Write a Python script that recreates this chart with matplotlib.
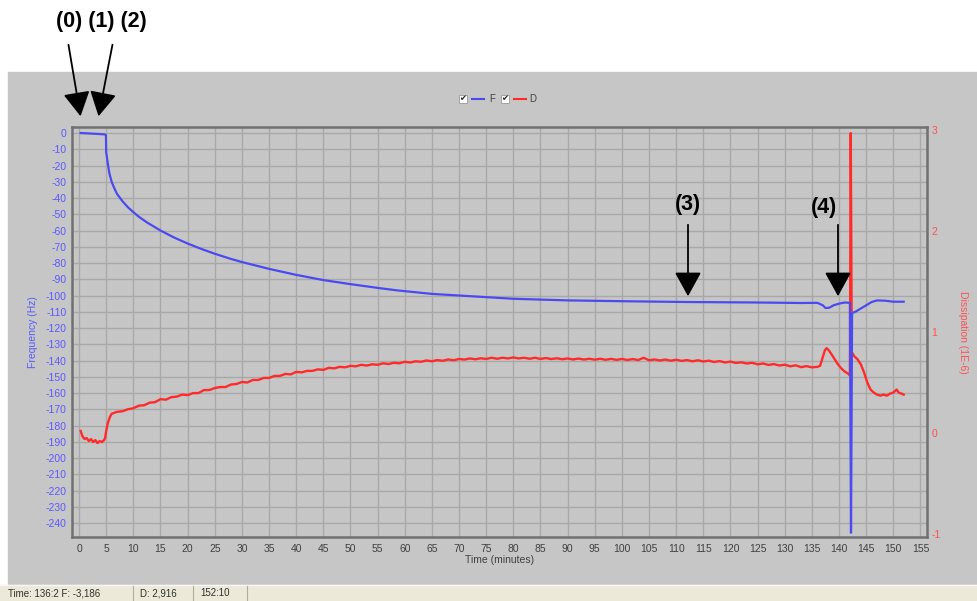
import numpy as np
import matplotlib
matplotlib.use('Agg')
import matplotlib.pyplot as plt
from matplotlib.lines import Line2D
from matplotlib.patches import Rectangle, FancyArrowPatch

plt.rcParams['font.family'] = ['Liberation Sans', 'DejaVu Sans']
plt.rcParams['axes.unicode_minus'] = False

# frequency F (Hz), left axis
t_f = [0.3, 2, 4.6, 4.95, 5.0, 5.1, 5.3, 5.6, 6.0, 6.5, 7.0, 8.0, 9.0, 10, 11, 12.5, 15, 17.5, 20,
       22.5, 25, 27.8, 30, 35, 40, 45, 50, 55, 58.5, 65, 70, 75, 80, 90, 100, 112,
       125, 133, 136, 137, 137.5, 138.2, 139, 140, 141, 142.0, 142.2, 142.4, 143,
       144, 145, 146, 147, 148.5, 150, 151.9]
freq = [0, -0.3, -0.8, -1.2, -12, -14, -19, -25, -30, -34, -37.5, -42, -45.7, -48.7, -51.5, -55, -60, -64.3, -68,
        -71.3, -74.3, -77.3, -79.4, -83.6, -87.3, -90.5, -93, -95.3, -96.8, -99, -100, -101, -102, -103, -103.5, -104,
        -104.3, -104.6, -104.5, -106, -107.7, -107.5, -106, -105, -104.3, -104.5, -246, -110.8, -110,
        -108, -106, -104, -103, -103.2, -103.8, -103.8]

# dissipation D (1E-6), right axis
t_d = [0.3, 0.6, 1.0, 1.4, 1.8, 2.2, 2.6, 3.0, 3.4, 3.8, 4.2, 4.6, 4.8, 5.0, 5.3, 5.7]
diss = [0.02, -0.03, -0.06, -0.05, -0.08, -0.06, -0.09, -0.07, -0.10, -0.08, -0.09, -0.07, -0.05, 0.02, 0.10, 0.16]
t_d += list(range(6, 137))
diss += [0.19, 0.21, 0.215, 0.235, 0.245, 0.27, 0.275, 0.30, 0.305, 0.335,
         0.33, 0.355, 0.36, 0.38, 0.375, 0.395, 0.395, 0.425, 0.425, 0.445,
         0.455, 0.455, 0.48, 0.485, 0.505, 0.50, 0.525, 0.525, 0.545, 0.545,
         0.565, 0.565, 0.585, 0.58, 0.605, 0.60, 0.615, 0.615, 0.63, 0.625,
         0.645, 0.64, 0.655, 0.65, 0.665, 0.66, 0.675, 0.668, 0.68, 0.675,
         0.69, 0.683, 0.695, 0.69, 0.705, 0.698, 0.71, 0.705, 0.718, 0.71,
         0.722, 0.715, 0.728, 0.72, 0.733, 0.727, 0.738, 0.73, 0.74, 0.733,
         0.745, 0.735, 0.745, 0.738, 0.748, 0.738, 0.745, 0.735, 0.745, 0.733,
         0.742, 0.732, 0.74, 0.73, 0.738, 0.728, 0.737, 0.727, 0.735, 0.726,
         0.735, 0.725, 0.734, 0.724, 0.733, 0.723, 0.732, 0.722, 0.745, 0.72,
         0.728, 0.718, 0.727, 0.716, 0.725, 0.714, 0.722, 0.71, 0.72, 0.708,
         0.716, 0.703, 0.712, 0.698, 0.707, 0.694, 0.70, 0.688, 0.695, 0.68,
         0.688, 0.674, 0.682, 0.668, 0.676, 0.66, 0.67, 0.652, 0.662, 0.65,
         0.655]
t_d += [136.5, 137.0, 137.4, 137.7, 138.1, 138.6, 139.2, 139.8, 140.4, 141.0, 141.6, 142.0,
        142.15, 142.35, 142.8, 143.4, 144.0, 144.6, 145.2, 145.8, 146.4, 147.0, 147.6,
        148.2, 148.8, 149.4, 150.0, 150.6, 151.0, 151.5, 151.9]
diss += [0.665, 0.75, 0.82, 0.84, 0.82, 0.78, 0.73, 0.68, 0.64, 0.61, 0.59, 0.57,
         2.97, 0.80, 0.76, 0.73, 0.68, 0.60, 0.50, 0.43, 0.40, 0.38, 0.37,
         0.38, 0.37, 0.39, 0.40, 0.43, 0.40, 0.39, 0.38]

x_ticks = list(range(0, 160, 5))
f_ticks = list(range(0, -250, -10))
d_ticks = [-1, 0, 1, 2, 3]

bg = '#c6c6c6'
blue = '#4a4af0'
red = '#ff2a2a'

fig = plt.figure(figsize=(9.78, 6.01), dpi=100)
fig.patch.set_facecolor('white')
fig.add_artist(Rectangle((8 / 978, 1 - 584 / 601), 970 / 978, 512 / 601,
                         transform=fig.transFigure, color=bg, zorder=0))
fig.add_artist(Rectangle((0, 0), 1, 16 / 601, transform=fig.transFigure,
                         color='#ece9d8', zorder=0))
fig.add_artist(Line2D([0, 1], [16.5 / 601] * 2, transform=fig.transFigure,
                      color='#f8f8f8', lw=1))

ax = fig.add_axes([72 / 978, 1 - 537 / 601, 855 / 978, 410 / 601])
ax.set_facecolor(bg)
ax.set_xlim(-1.3, 156.2)
ax.set_ylim(-248.6, 3.7)
ax.set_xticks(x_ticks)
ax.set_yticks(f_ticks)
ax.grid(True, color='#a8a8a8', lw=1)
ax.set_axisbelow(True)
for s in ax.spines.values():
    s.set_color('#707070')
    s.set_linewidth(1.8)
ax.tick_params(axis='x', length=0, pad=5, labelsize=7.5, labelcolor='#404040')
ax.tick_params(axis='y', length=0, pad=4, labelsize=7.5, labelcolor='#5a5aff')
ax.set_xlabel('Time (minutes)', fontsize=7.5, color='#404040', labelpad=1)
ax.set_ylabel('Frequency (Hz)', fontsize=7.5, color='#5a5aff', labelpad=5)

ax2 = ax.twinx()
ax2.set_ylim(-1.03, 3.03)
ax2.set_yticks(d_ticks)
ax2.tick_params(axis='y', length=0, pad=3, labelsize=7.5, labelcolor='#ff5050')
ax2.set_ylabel('Dissipation (1E-6)', fontsize=7.5, color='#ff5050', rotation=270, labelpad=20)
for s in ax2.spines.values():
    s.set_visible(False)

ax2.plot(t_d, diss, color=red, lw=1.7, zorder=2)
ax3 = ax.twinx()
ax3.set_ylim(ax.get_ylim())
ax3.set_yticks([])
for s in ax3.spines.values():
    s.set_visible(False)
ax3.plot(t_f, freq, color=blue, lw=1.6, zorder=3)

# legend with check boxes
for xb, col, lab, xl in [(459, blue, 'F', 489), (501, red, 'D', 529)]:
    fig.add_artist(Rectangle((xb / 978, 1 - 103 / 601), 8 / 978, 8 / 601,
                             transform=fig.transFigure, facecolor='white',
                             edgecolor='#999999', lw=0.6))
    fig.text((xb + 4) / 978, 1 - 99 / 601, '✔', fontsize=6, color='#222222',
             ha='center', va='center', family='DejaVu Sans')
    fig.add_artist(Line2D([(xb + 13) / 978, (xb + 25) / 978], [1 - 99 / 601] * 2,
                          transform=fig.transFigure, color=col, lw=1.5))
    fig.text(xl / 978, 1 - 99 / 601, lab, fontsize=7, color='#404040', va='center')

# annotations
fig.text(101 / 978, 1 - 22 / 601, '(0) (1) (2)', fontsize=15.5, weight='bold',
         ha='center', va='center')
arrow = dict(arrowstyle='-|>,head_length=1.0,head_width=0.55', color='black', lw=1.3)
for (x0, y0, x1, y1) in [(68, 42, 81, 119), (113, 42, 98, 119), (688, 222, 688, 299), (838, 222, 838, 299)]:
    fig.add_artist(FancyArrowPatch(
        (x0 / 978, 1 - y0 / 601), (x1 / 978, 1 - y1 / 601), transform=fig.transFigure,
        **arrow, mutation_scale=15))
fig.text(688 / 978, 1 - 205 / 601, '(3)', fontsize=15.5, weight='bold', ha='center', va='center')
fig.text(824 / 978, 1 - 207 / 601, '(4)', fontsize=15.5, weight='bold', ha='center', va='center')

# status bar
fig.text(8 / 978, 8 / 601, 'Time: 136:2 F: -3,186', fontsize=7, color='#303030', va='center')
fig.text(140 / 978, 8 / 601, 'D: 2,916', fontsize=7, color='#303030', va='center')
fig.text(200 / 978, 8 / 601, '152:10', fontsize=7, color='#303030', va='center')
for xs in [133, 193, 247]:
    fig.add_artist(Line2D([xs / 978] * 2, [1 / 601, 15 / 601], transform=fig.transFigure,
                          color='#b0ad9c', lw=0.8))

fig.savefig('out.png', dpi=100, facecolor=fig.get_facecolor())
